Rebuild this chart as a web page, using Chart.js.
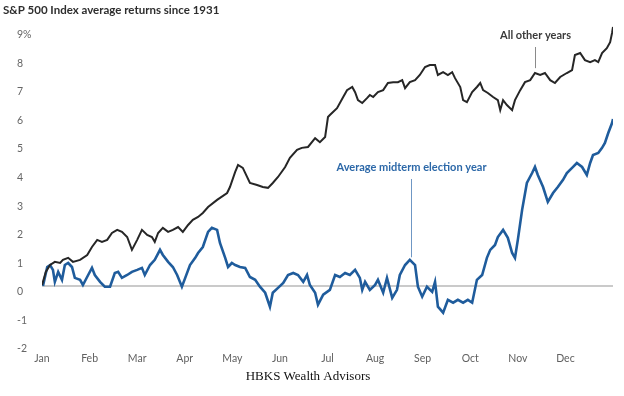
<!DOCTYPE html>
<html>
<head>
<meta charset="utf-8">
<script src="https://cdn.jsdelivr.net/npm/chart.js@4.4.0/dist/chart.umd.min.js"></script>
<style>
  html, body { margin: 0; padding: 0; background: #fff; }
  #wrap { width: 624px; height: 396px; position: relative; }
</style>
</head>
<body>
<div id="wrap"><canvas id="myChart"></canvas></div>
<script>
// Nhãn tháng cho trục X
const monthLabels = ["Jan", "Feb", "Mar", "Apr", "May", "Jun", "Jul", "Aug", "Sep", "Oct", "Nov", "Dec"];
// Các vạch trục Y
const yTickValues = [-2, -1, 0, 1, 2, 3, 4, 5, 6, 7, 8, 9];

// All other years: vị trí theo tháng (0 = đầu Jan, 12 = cuối Dec) và lợi nhuận (%)
const otherYearsMonth = [
    0, 0.08, 0.17, 0.27, 0.38, 0.44, 0.55, 0.65, 0.80, 0.95,
    1.05, 1.16, 1.26, 1.37, 1.47, 1.58, 1.68, 1.79, 1.89, 2.00,
    2.10, 2.21, 2.31, 2.37, 2.44, 2.54, 2.65, 2.75, 2.86, 2.96,
    3.07, 3.17, 3.28, 3.38, 3.49, 3.68, 3.89, 3.95, 4.06, 4.12,
    4.22, 4.37, 4.52, 4.64, 4.75, 4.85, 4.96, 5.11, 5.21, 5.36,
    5.46, 5.59, 5.74, 5.84, 5.95, 6.01, 6.05, 6.20, 6.33, 6.41,
    6.52, 6.58, 6.64, 6.73, 6.83, 6.89, 6.96, 7.06, 7.17, 7.27,
    7.38, 7.48, 7.57, 7.63, 7.73, 7.84, 7.94, 8.05, 8.15, 8.26,
    8.32, 8.43, 8.53, 8.62, 8.68, 8.79, 8.85, 8.93, 9.04, 9.14,
    9.21, 9.27, 9.37, 9.48, 9.58, 9.63, 9.69, 9.77, 9.88, 9.94,
    10.05, 10.15, 10.26, 10.36, 10.47, 10.57, 10.68, 10.78, 10.89, 11.03,
    11.14, 11.20, 11.31, 11.41, 11.52, 11.62, 11.69, 11.77, 11.87, 11.94,
    11.98, 12.00
];
const otherYearsReturn = [
    0.03, 0.49, 0.73, 0.84, 0.80, 0.91, 0.98, 0.84, 0.91, 1.08,
    1.36, 1.61, 1.54, 1.61, 1.85, 1.96, 1.89, 1.71, 1.26, 1.61,
    1.96, 1.78, 1.71, 1.54, 1.85, 2.03, 1.89, 1.96, 2.06, 1.89,
    2.13, 2.31, 2.41, 2.55, 2.76, 3.01, 3.25, 3.46, 3.99, 4.23,
    4.13, 3.60, 3.53, 3.46, 3.43, 3.60, 3.81, 4.16, 4.48, 4.76,
    4.83, 4.86, 5.17, 5.03, 5.21, 5.91, 5.98, 6.22, 6.61, 6.85,
    6.96, 6.78, 6.50, 6.40, 6.57, 6.68, 6.61, 6.78, 6.85, 7.10,
    7.13, 7.13, 7.20, 6.92, 7.13, 7.20, 7.38, 7.66, 7.73, 7.73,
    7.38, 7.48, 7.38, 7.48, 7.27, 6.96, 6.50, 6.43, 6.78, 6.96,
    7.10, 6.85, 6.75, 6.61, 6.50, 6.15, 6.50, 6.33, 6.15, 6.50,
    6.85, 7.13, 7.20, 7.45, 7.38, 7.45, 7.20, 7.10, 7.31, 7.45,
    7.55, 8.08, 8.15, 7.90, 7.83, 7.90, 7.83, 8.15, 8.32, 8.53,
    8.85, 9.06
];

// Average midterm election year
const midtermMonth = [
    0.02, 0.11, 0.17, 0.23, 0.27, 0.34, 0.42, 0.48, 0.55, 0.63,
    0.69, 0.80, 0.86, 0.97, 1.05, 1.11, 1.22, 1.32, 1.43, 1.53,
    1.60, 1.68, 1.79, 1.89, 2.00, 2.10, 2.16, 2.27, 2.37, 2.48,
    2.54, 2.65, 2.75, 2.84, 2.94, 3.01, 3.11, 3.22, 3.28, 3.38,
    3.49, 3.57, 3.68, 3.74, 3.85, 3.91, 3.99, 4.06, 4.16, 4.27,
    4.37, 4.48, 4.58, 4.69, 4.79, 4.85, 4.96, 5.07, 5.17, 5.28,
    5.38, 5.49, 5.57, 5.63, 5.74, 5.80, 5.91, 6.05, 6.16, 6.26,
    6.37, 6.47, 6.58, 6.68, 6.73, 6.79, 6.89, 7.00, 7.06, 7.17,
    7.25, 7.36, 7.46, 7.52, 7.63, 7.73, 7.84, 7.90, 7.99, 8.09,
    8.20, 8.26, 8.32, 8.43, 8.53, 8.64, 8.74, 8.85, 8.95, 9.04,
    9.14, 9.25, 9.35, 9.42, 9.52, 9.58, 9.69, 9.79, 9.88, 9.94,
    10.00, 10.09, 10.19, 10.30, 10.36, 10.42, 10.53, 10.63, 10.74, 10.84,
    10.95, 11.03, 11.14, 11.24, 11.35, 11.45, 11.52, 11.58, 11.69, 11.77,
    11.83, 11.90, 11.98, 12.00
];
const midtermReturn = [
    0, 0.66, 0.73, 0.56, 0.14, 0.49, 0.21, 0.73, 0.80, 0.66,
    0.28, 0.21, 0.03, 0.38, 0.63, 0.38, 0.14, -0.03, -0.03, 0.45,
    0.49, 0.28, 0.38, 0.49, 0.56, 0.63, 0.38, 0.73, 0.91, 1.26,
    1.08, 0.84, 0.66, 0.38, -0.03, 0.28, 0.73, 0.98, 1.15, 1.36,
    1.89, 2.03, 1.96, 1.50, 0.98, 0.66, 0.80, 0.73, 0.66, 0.63,
    0.31, 0.21, -0.03, -0.24, -0.73, -0.24, -0.07, 0.10, 0.38, 0.45,
    0.38, 0.14, 0.38, 0.03, -0.24, -0.66, -0.31, -0.14, 0.38, 0.31,
    0.45, 0.38, 0.56, 0.28, -0.14, 0.14, -0.14, 0.03, 0.21, -0.24,
    0.28, -0.42, -0.14, 0.38, 0.73, 0.91, 0.73, -0.03, -0.38, -0.03,
    -0.21, 0.14, -0.73, -0.94, -0.49, -0.59, -0.49, -0.59, -0.49, -0.59,
    0.21, 0.38, 0.98, 1.26, 1.43, 1.71, 1.96, 1.68, 1.15, 0.98,
    1.61, 2.66, 3.60, 3.95, 4.16, 3.88, 3.46, 2.94, 3.25, 3.46,
    3.71, 3.95, 4.13, 4.30, 4.16, 3.88, 4.30, 4.58, 4.65, 4.83,
    5.00, 5.35, 5.70, 5.84
];

function toPoints(xs, ys) {
    return xs.map((x, i) => ({ x: x, y: ys[i] }));
}

// Tiêu đề, chú thích và nhãn đường
const notesPlugin = {
    id: "notes",
    afterDraw(chart) {
        const ctx = chart.ctx;
        const xs = chart.scales.x;
        const ys = chart.scales.y;
        ctx.save();
        ctx.textBaseline = "middle";

        ctx.font = "bold 11.5px Lato";
        ctx.fillStyle = "#2e2e2e";
        ctx.textAlign = "left";
        ctx.fillText("S&P 500 Index average returns since 1931", 3, 10);

        ctx.font = "13px 'Liberation Serif'";
        ctx.fillStyle = "#111";
        ctx.textAlign = "center";
        ctx.fillText("HBKS Wealth Advisors", 308, 377);

        // All other years
        let px = Math.round(xs.getPixelForValue(10.36)) + 0.5;
        ctx.font = "bold 11px Lato";
        ctx.fillStyle = "#3a3a3a";
        ctx.fillText("All other years", px, ys.getPixelForValue(8.78));
        ctx.strokeStyle = "#8a8a8a";
        ctx.lineWidth = 1;
        ctx.beginPath();
        ctx.moveTo(px, ys.getPixelForValue(8.36));
        ctx.lineTo(px, ys.getPixelForValue(7.62));
        ctx.stroke();

        // Average midterm election year
        px = Math.round(xs.getPixelForValue(7.76)) + 0.5;
        ctx.fillStyle = "#2c68a8";
        ctx.fillText("Average midterm election year", px, ys.getPixelForValue(4.16));
        ctx.strokeStyle = "#6f97c4";
        ctx.beginPath();
        ctx.moveTo(px, ys.getPixelForValue(3.74));
        ctx.lineTo(px, ys.getPixelForValue(1.0));
        ctx.stroke();

        ctx.restore();
    },
};

Chart.defaults.font.family = "Lato";

const ctxLine = document.getElementById("myChart").getContext("2d");
const myLineChart = new Chart(ctxLine, {
    type: "line",
    data: {
        datasets: [
            {
                label: "All other years",
                data: toPoints(otherYearsMonth, otherYearsReturn),
                borderColor: "#262626",
                borderWidth: 2,
                pointRadius: 0,
                tension: 0,
            },
            {
                label: "Average midterm election year",
                data: toPoints(midtermMonth, midtermReturn),
                borderColor: "#1f5c9c",
                borderWidth: 2.6,
                pointRadius: 0,
                tension: 0,
            },
        ],
    },
    options: {
        responsive: true,
        maintainAspectRatio: false,
        animation: false,
        layout: {
            padding: { left: 17, right: 11, top: 23, bottom: 32 },
        },
        plugins: {
            legend: { display: false },
            tooltip: { enabled: false },
        },
        scales: {
            x: {
                type: "linear",
                min: 0,
                max: 12,
                afterBuildTicks: function (axis) {
                    axis.ticks = monthLabels.map((m, i) => ({ value: i }));
                },
                afterFit: function (axis) {
                    axis.height = 21;
                },
                ticks: {
                    autoSkip: false,
                    maxRotation: 0,
                    padding: 9,
                    color: "#606060",
                    font: { size: 10.5 },
                    callback: function (value) {
                        return monthLabels[value];
                    },
                },
                grid: { display: false, drawTicks: false },
                border: { display: false },
            },
            y: {
                min: -2,
                max: 9.2,
                afterBuildTicks: function (axis) {
                    axis.ticks = yTickValues.map((v) => ({ value: v }));
                },
                afterFit: function (axis) {
                    axis.width = 25;
                },
                ticks: {
                    crossAlign: "far",
                    labelOffset: 6,
                    color: "#666",
                    font: { size: 10.5 },
                    callback: function (value) {
                        return value === 9 ? "9%" : String(value);
                    },
                },
                grid: {
                    drawTicks: false,
                    lineWidth: 2,
                    color: function (context) {
                        return context.tick && context.tick.value === 0 ? "#cacaca" : "rgba(0,0,0,0)";
                    },
                },
                border: { display: false },
            },
        },
    },
    plugins: [notesPlugin],
});
</script>
</body>
</html>
